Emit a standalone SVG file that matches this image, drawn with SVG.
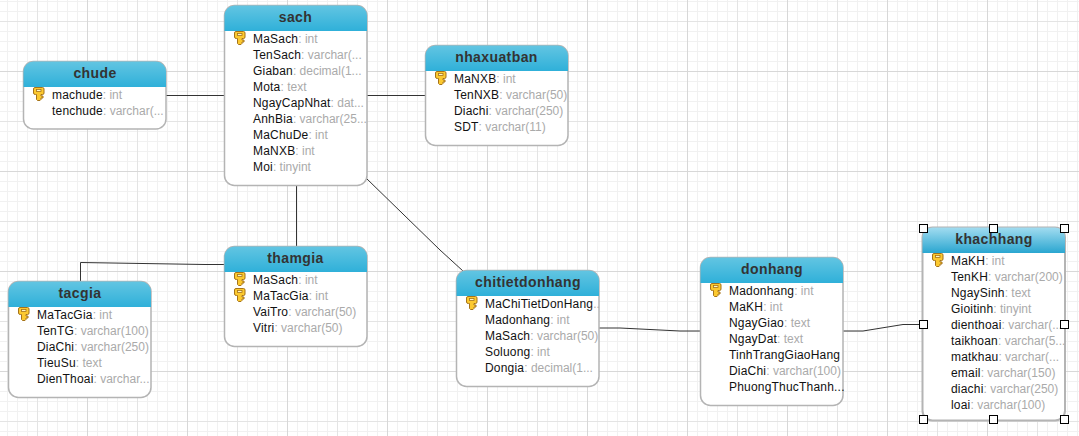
<svg xmlns="http://www.w3.org/2000/svg" width="1079" height="436" viewBox="0 0 1079 436">
<style>
.bd{fill:#fff;stroke:#b4b4b4;stroke-width:1.5}
.t{font:bold 14px "Liberation Sans",Arial,sans-serif;fill:#333;text-anchor:middle;letter-spacing:.4px}
.r{font:12px "Liberation Sans",Arial,sans-serif;fill:#111;letter-spacing:.2px}
.r tspan{fill:#aaa;letter-spacing:0}
.c{fill:none;stroke:#333;stroke-width:1}
.h{fill:#fff;stroke:#000;stroke-width:1}
</style>
<defs>
<pattern id="g" width="100" height="100" patternUnits="userSpaceOnUse" x="7" y="1">
<path d="M0.500 0V100M10.500 0V100M20.500 0V100M40.500 0V100M50.500 0V100M60.500 0V100M70.500 0V100M90.500 0V100M0 0.500H100M0 10.500H100M0 30.500H100M0 40.500H100M0 50.500H100M0 60.500H100M0 80.500H100M0 90.500H100" stroke="#f1f1f1" fill="none"/>
<path d="M30.500 0V100M0 20.500H100" stroke="#e4e4e4" fill="none"/>
<path d="M80.500 0V100M0 70.500H100" stroke="#d8d8d8" fill="none"/>
</pattern>
<linearGradient id="hd" x1="0" y1="0" x2="0" y2="1"><stop offset="0" stop-color="#62c5e2"/><stop offset="1" stop-color="#2fb0d9"/></linearGradient>
<linearGradient id="hs" x1="0" y1="0" x2="0" y2="1"><stop offset="0" stop-color="#a2dcf0"/><stop offset="1" stop-color="#2aa6d0"/></linearGradient>
<g id="key">
<path d="M0.500 2q0-1.500 1.500-1.500h7.500q1.500 0 1.500 1.500v4q0 1.500-1.500 1.500h-1.500v1.500h2v2h-2v1.500l-1 1h-2.500l-1-1v-5h-1q-2 0-2-1.500z" fill="#fcc92f" stroke="#a5731a" stroke-width="1"/>
<rect x="3.500" y="2.500" width="4.500" height="2" fill="#fff6c4" stroke="#a5731a" stroke-width=".8"/>
</g>
</defs>
<rect width="1079" height="436" fill="#fff"/>
<rect width="1079" height="436" fill="url(#g)"/>
<g id="connectors">
<path class="c" d="M166 95.500H224"/>
<path class="c" d="M367 95.500H425"/>
<path class="c" d="M296.500 185V246"/>
<path class="c" d="M80.500 281V262.500L205 264.500H224"/>
<path class="c" d="M366 178L440 250L463 271"/>
<path class="c" d="M599 328H620L680 331H700"/>
<path class="c" d="M843 331H863L903 324.500H922"/>
</g>
<g id="chude">
<rect class="bd" x="23.500" y="61.500" width="142.500" height="67.500" rx="10"/>
<path d="M23.500 87V71.500a10 10 0 0 1 10-10H156a10 10 0 0 1 10 10V87z" fill="url(#hd)"/>
<text class="t" x="95" y="78">chude</text>
<use href="#key" x="33" y="87"/>
<text class="r" x="52" y="99">machude<tspan>: int</tspan></text>
<text class="r" x="52" y="115">tenchude<tspan>: varchar(...</tspan></text>
</g>
<g id="sach">
<rect class="bd" x="224.500" y="5.500" width="142.500" height="180" rx="10"/>
<path d="M224.500 31V15.500a10 10 0 0 1 10-10H357a10 10 0 0 1 10 10V31z" fill="url(#hd)"/>
<text class="t" x="295.500" y="22">sach</text>
<use href="#key" x="234" y="31"/>
<text class="r" x="253" y="43">MaSach<tspan>: int</tspan></text>
<text class="r" x="253" y="59">TenSach<tspan>: varchar(...</tspan></text>
<text class="r" x="253" y="75">Giaban<tspan>: decimal(1...</tspan></text>
<text class="r" x="253" y="91">Mota<tspan>: text</tspan></text>
<text class="r" x="253" y="107">NgayCapNhat<tspan>: dat...</tspan></text>
<text class="r" x="253" y="123">AnhBia<tspan>: varchar(25...</tspan></text>
<text class="r" x="253" y="139">MaChuDe<tspan>: int</tspan></text>
<text class="r" x="253" y="155">MaNXB<tspan>: int</tspan></text>
<text class="r" x="253" y="171">Moi<tspan>: tinyint</tspan></text>
</g>
<g id="nhaxuatban">
<rect class="bd" x="425.500" y="45.500" width="142.500" height="100" rx="10"/>
<path d="M425.500 71V55.500a10 10 0 0 1 10-10H558a10 10 0 0 1 10 10V71z" fill="url(#hd)"/>
<text class="t" x="496.500" y="62">nhaxuatban</text>
<use href="#key" x="435" y="71"/>
<text class="r" x="454" y="83">MaNXB<tspan>: int</tspan></text>
<text class="r" x="454" y="99">TenNXB<tspan>: varchar(50)</tspan></text>
<text class="r" x="454" y="115">Diachi<tspan>: varchar(250)</tspan></text>
<text class="r" x="454" y="131">SDT<tspan>: varchar(11)</tspan></text>
</g>
<g id="thamgia">
<rect class="bd" x="224.500" y="246.500" width="142.500" height="100" rx="10"/>
<path d="M224.500 272V256.500a10 10 0 0 1 10-10H357a10 10 0 0 1 10 10V272z" fill="url(#hd)"/>
<text class="t" x="295.500" y="263">thamgia</text>
<use href="#key" x="234" y="272"/>
<use href="#key" x="234" y="288"/>
<text class="r" x="253" y="284">MaSach<tspan>: int</tspan></text>
<text class="r" x="253" y="300">MaTacGia<tspan>: int</tspan></text>
<text class="r" x="253" y="316">VaiTro<tspan>: varchar(50)</tspan></text>
<text class="r" x="253" y="332">Vitri<tspan>: varchar(50)</tspan></text>
</g>
<g id="tacgia">
<rect class="bd" x="8.500" y="281.500" width="142.500" height="116" rx="10"/>
<path d="M8.500 307V291.500a10 10 0 0 1 10-10H141a10 10 0 0 1 10 10V307z" fill="url(#hd)"/>
<text class="t" x="80" y="298">tacgia</text>
<use href="#key" x="18" y="307"/>
<text class="r" x="37" y="319">MaTacGia<tspan>: int</tspan></text>
<text class="r" x="37" y="335">TenTG<tspan>: varchar(100)</tspan></text>
<text class="r" x="37" y="351">DiaChi<tspan>: varchar(250)</tspan></text>
<text class="r" x="37" y="367">TieuSu<tspan>: text</tspan></text>
<text class="r" x="37" y="383">DienThoai<tspan>: varchar...</tspan></text>
</g>
<g id="chitietdonhang">
<rect class="bd" x="456.500" y="270.500" width="142.500" height="116" rx="10"/>
<path d="M456.500 296V280.500a10 10 0 0 1 10-10H589a10 10 0 0 1 10 10V296z" fill="url(#hd)"/>
<text class="t" x="528" y="287">chitietdonhang</text>
<use href="#key" x="466" y="296"/>
<text class="r" x="485" y="308">MaChiTietDonHang<tspan>..</tspan></text>
<text class="r" x="485" y="324">Madonhang<tspan>: int</tspan></text>
<text class="r" x="485" y="340">MaSach<tspan>: varchar(50)</tspan></text>
<text class="r" x="485" y="356">Soluong<tspan>: int</tspan></text>
<text class="r" x="485" y="372">Dongia<tspan>: decimal(1...</tspan></text>
</g>
<g id="donhang">
<rect class="bd" x="700.500" y="257.500" width="142.500" height="148" rx="10"/>
<path d="M700.500 283V267.500a10 10 0 0 1 10-10H833a10 10 0 0 1 10 10V283z" fill="url(#hd)"/>
<text class="t" x="772" y="274">donhang</text>
<use href="#key" x="710" y="283"/>
<text class="r" x="729" y="295">Madonhang<tspan>: int</tspan></text>
<text class="r" x="729" y="311">MaKH<tspan>: int</tspan></text>
<text class="r" x="729" y="327">NgayGiao<tspan>: text</tspan></text>
<text class="r" x="729" y="343">NgayDat<tspan>: text</tspan></text>
<text class="r" x="729" y="359">TinhTrangGiaoHang</text>
<text class="r" x="729" y="375">DiaChi<tspan>: varchar(100)</tspan></text>
<text class="r" x="729" y="391">PhuongThucThanh...</text>
</g>
<g id="khachhang">
<rect x="922.500" y="227.500" width="142.500" height="193" rx="10" fill="#fff" stroke="#b4b4b4" stroke-width="2"/>
<path d="M922.500 253V237.500a10 10 0 0 1 10-10H1055a10 10 0 0 1 10 10V253z" fill="url(#hs)"/>
<text class="t" x="994" y="244">khachhang</text>
<use href="#key" x="932" y="253"/>
<text class="r" x="951" y="265">MaKH<tspan>: int</tspan></text>
<text class="r" x="951" y="281">TenKH<tspan>: varchar(200)</tspan></text>
<text class="r" x="951" y="297">NgaySinh<tspan>: text</tspan></text>
<text class="r" x="951" y="313">Gioitinh<tspan>: tinyint</tspan></text>
<text class="r" x="951" y="329">dienthoai<tspan>: varchar(...</tspan></text>
<text class="r" x="951" y="345">taikhoan<tspan>: varchar(5...</tspan></text>
<text class="r" x="951" y="361">matkhau<tspan>: varchar(...</tspan></text>
<text class="r" x="951" y="377">email<tspan>: varchar(150)</tspan></text>
<text class="r" x="951" y="393">diachi<tspan>: varchar(250)</tspan></text>
<text class="r" x="951" y="409">loai<tspan>: varchar(100)</tspan></text>
<rect class="h" x="919.500" y="224.500" width="8" height="8"/>
<rect class="h" x="989.500" y="224.500" width="8" height="8"/>
<rect class="h" x="1060.500" y="224.500" width="8" height="8"/>
<rect class="h" x="919.500" y="320.500" width="8" height="8"/>
<rect class="h" x="1060.500" y="320.500" width="8" height="8"/>
<rect class="h" x="919.500" y="415.500" width="8" height="8"/>
<rect class="h" x="989.500" y="415.500" width="8" height="8"/>
<rect class="h" x="1060.500" y="415.500" width="8" height="8"/>
</g>
</svg>
